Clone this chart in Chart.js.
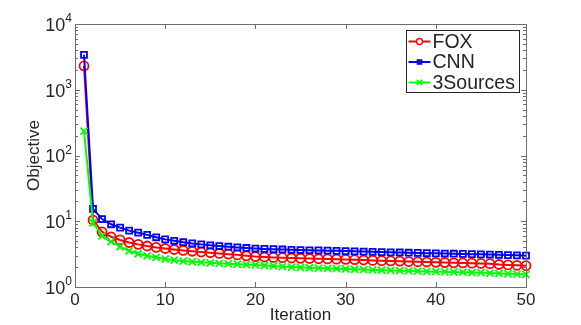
<!DOCTYPE html>
<html>
<head>
<meta charset="utf-8">
<script src="https://cdn.jsdelivr.net/npm/chart.js@4.4.1/dist/chart.umd.min.js"></script>
<style>
  html, body { margin: 0; padding: 0; background: #fff; }
  #wrap { width: 581px; height: 325px; }
</style>
</head>
<body>
<div id="wrap"><canvas id="objChart" width="581" height="325"></canvas></div>
<script>
// data
const iterations = [1, 2, 3, 4, 5, 6, 7, 8, 9, 10,
    11, 12, 13, 14, 15, 16, 17, 18, 19, 20,
    21, 22, 23, 24, 25, 26, 27, 28, 29, 30,
    31, 32, 33, 34, 35, 36, 37, 38, 39, 40,
    41, 42, 43, 44, 45, 46, 47, 48, 49, 50];

const foxValues = [2300, 10.4, 6.9, 5.8, 5.2, 4.75, 4.45, 4.2, 4.0, 3.85,
    3.72, 3.6, 3.5, 3.4, 3.32, 3.24, 3.16, 3.08, 2.98, 2.9,
    2.86, 2.82, 2.79, 2.76, 2.73, 2.71, 2.69, 2.67, 2.65, 2.63,
    2.6, 2.57, 2.54, 2.51, 2.49, 2.47, 2.44, 2.42, 2.4, 2.37,
    2.35, 2.33, 2.32, 2.3, 2.28, 2.26, 2.2, 2.17, 2.14, 2.11];

const cnnValues = [3400, 15.4, 10.8, 9.0, 8.0, 7.2, 6.7, 6.2, 5.7, 5.3,
    5.05, 4.8, 4.6, 4.45, 4.3, 4.2, 4.1, 4.0, 3.92, 3.85,
    3.8, 3.76, 3.72, 3.68, 3.65, 3.62, 3.6, 3.57, 3.55, 3.52,
    3.49, 3.46, 3.43, 3.4, 3.37, 3.35, 3.32, 3.3, 3.27, 3.25,
    3.23, 3.21, 3.19, 3.16, 3.14, 3.12, 3.09, 3.06, 3.03, 3.0];

const sourcesValues = [235, 9.5, 6.0, 4.9, 4.1, 3.55, 3.2, 2.98, 2.82, 2.67,
    2.56, 2.48, 2.42, 2.37, 2.33, 2.29, 2.25, 2.22, 2.19, 2.16,
    2.12, 2.09, 2.05, 2.01, 1.98, 1.96, 1.94, 1.92, 1.9, 1.88,
    1.86, 1.84, 1.82, 1.8, 1.79, 1.77, 1.76, 1.74, 1.72, 1.71,
    1.7, 1.69, 1.68, 1.66, 1.65, 1.63, 1.61, 1.59, 1.57, 1.56];

const seriesNames = ['FOX', 'CNN', '3Sources'];
const seriesColors = ['#ff0000', '#0000ff', '#00ff00'];
const seriesMarkers = ['circle', 'rect', 'crossRot'];

const xTicks = [0, 10, 20, 30, 40, 50];
const yTicks = [1, 10, 100, 1000, 10000];
const yExponents = ['0', '1', '2', '3', '4'];

const FONT = "'Liberation Sans', Arial, sans-serif";
const TEXT_COLOR = '#262626';
const AXIS_COLOR = '#6e6e6e';

function toPoints(values) {
    return values.map((v, i) => ({ x: iterations[i], y: v }));
}

const markerSize = { circle: 4.5, rect: 4.2, crossRot: 5 };

const datasets = [foxValues, cnnValues, sourcesValues].map((vals, i) => ({
    label: seriesNames[i],
    data: toPoints(vals),
    borderColor: seriesColors[i],
    backgroundColor: 'rgba(255,255,255,0)',
    borderWidth: 2,
    pointStyle: seriesMarkers[i],
    pointRadius: markerSize[seriesMarkers[i]],
    pointBorderColor: seriesColors[i],
    pointBackgroundColor: 'rgba(255,255,255,0)',
    pointBorderWidth: 1.8,
    tension: 0,
    clip: false,
    order: 2 - i
}));

// box, inward ticks, tick labels and titles in the matlab look
const framePlugin = {
    id: 'frame',
    afterDatasetsDraw(chart) {
        const ctx = chart.ctx;
        const a = chart.chartArea;
        const xs = chart.scales.x;
        const ys = chart.scales.y;
        ctx.save();
        ctx.strokeStyle = AXIS_COLOR;
        ctx.lineWidth = 1;
        ctx.strokeRect(a.left + 0.5, a.top + 0.5, a.right - a.left, a.bottom - a.top);

        ctx.beginPath();
        xTicks.forEach(t => {
            const px = Math.round(xs.getPixelForValue(t)) + 0.5;
            ctx.moveTo(px, a.bottom); ctx.lineTo(px, a.bottom - 5);
            ctx.moveTo(px, a.top); ctx.lineTo(px, a.top + 5);
        });
        yTicks.forEach(t => {
            const py = Math.round(ys.getPixelForValue(t)) + 0.5;
            ctx.moveTo(a.left, py); ctx.lineTo(a.left + 5, py);
            ctx.moveTo(a.right, py); ctx.lineTo(a.right - 5, py);
        });
        for (let d = 0; d < yTicks.length - 1; d++) {
            for (let m = 2; m <= 9; m++) {
                const py = Math.round(ys.getPixelForValue(m * yTicks[d])) + 0.5;
                ctx.moveTo(a.left, py); ctx.lineTo(a.left + 3, py);
                ctx.moveTo(a.right, py); ctx.lineTo(a.right - 3, py);
            }
        }
        ctx.stroke();

        ctx.fillStyle = TEXT_COLOR;
        ctx.font = '17px ' + FONT;
        ctx.textAlign = 'center';
        ctx.textBaseline = 'top';
        xTicks.forEach(t => {
            ctx.fillText(String(t), xs.getPixelForValue(t), a.bottom + 5);
        });

        yTicks.forEach((t, i) => {
            const py = ys.getPixelForValue(t);
            ctx.font = '12px ' + FONT;
            ctx.textAlign = 'right';
            ctx.textBaseline = 'alphabetic';
            const ew = ctx.measureText(yExponents[i]).width;
            ctx.fillText(yExponents[i], a.left - 3, py - 2);
            ctx.font = '18px ' + FONT;
            ctx.textBaseline = 'middle';
            ctx.fillText('10', a.left - 3 - ew, py + 2);
        });

        ctx.font = '17px ' + FONT;
        ctx.textAlign = 'center';
        ctx.textBaseline = 'middle';
        ctx.fillText('Iteration', (a.left + a.right) / 2, a.bottom + 28);
        ctx.translate(34, (a.top + a.bottom) / 2);
        ctx.rotate(-Math.PI / 2);
        ctx.fillText('Objective', 0, 0);
        ctx.restore();
    }
};

const legendPlugin = {
    id: 'boxLegend',
    afterDraw(chart) {
        const ctx = chart.ctx;
        const box = { x: 406.5, y: 30.5, w: 113, h: 62 };
        ctx.save();
        ctx.fillStyle = '#fff';
        ctx.fillRect(box.x, box.y, box.w, box.h);
        ctx.strokeStyle = '#262626';
        ctx.lineWidth = 1;
        ctx.strokeRect(box.x, box.y, box.w, box.h);
        seriesNames.forEach((name, i) => {
            const y = box.y + 11 + i * 20.5;
            ctx.strokeStyle = seriesColors[i];
            ctx.lineWidth = 2;
            ctx.beginPath();
            ctx.moveTo(box.x + 2, y);
            ctx.lineTo(box.x + 24, y);
            ctx.stroke();
            ctx.lineWidth = 1.4;
            Chart.helpers.drawPoint(ctx, {
                pointStyle: seriesMarkers[i],
                radius: seriesMarkers[i] === 'crossRot' ? 4 : 3,
                borderWidth: 1.4,
                rotation: 0
            }, box.x + 13, y);
            ctx.fillStyle = TEXT_COLOR;
            ctx.font = '19.5px ' + FONT;
            ctx.textAlign = 'left';
            ctx.textBaseline = 'middle';
            ctx.fillText(name, box.x + 26, y + 1);
        });
        ctx.restore();
    }
};

new Chart(document.getElementById('objChart'), {
    type: 'line',
    data: { datasets: datasets },
    options: {
        responsive: false,
        animation: false,
        devicePixelRatio: 1,
        layout: { padding: { left: 75, right: 55, top: 24, bottom: 38 } },
        plugins: {
            legend: { display: false },
            tooltip: { enabled: false }
        },
        scales: {
            x: { type: 'linear', min: 0, max: 50, display: false },
            y: { type: 'logarithmic', min: 1, max: 10000, display: false }
        }
    },
    plugins: [framePlugin, legendPlugin]
});
</script>
</body>
</html>
